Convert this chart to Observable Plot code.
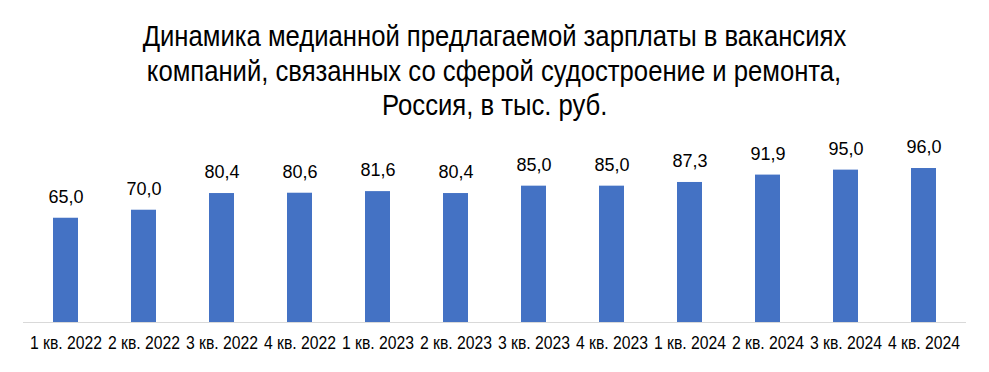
<!DOCTYPE html>
<html>
<head>
<meta charset="utf-8">
<script src="https://cdn.jsdelivr.net/npm/d3@7"></script>
<script src="https://cdn.jsdelivr.net/npm/@observablehq/plot@0.6"></script>
<style>
  html, body { margin: 0; padding: 0; background: #fff; }
  #title {
    width: 989px; height: 125px; box-sizing: border-box; padding-top: 19px;
    text-align: center; font-family: "Liberation Sans", Arial, sans-serif;
    font-size: 30px; line-height: 34.5px; color: #000;
  }
  #title span { display: inline-block; transform: scaleX(0.855); transform-origin: center; white-space: nowrap; }
  #chart svg { display: block; }
</style>
</head>
<body>
<div id="title"><span>Динамика медианной предлагаемой зарплаты в вакансиях</span><br><span>компаний, связанных со сферой судостроение и ремонта,</span><br><span>Россия, в тыс. руб.</span></div>
<div id="chart"></div>
<script>
const quarters = ["1 кв. 2022","2 кв. 2022","3 кв. 2022","4 кв. 2022","1 кв. 2023","2 кв. 2023","3 кв. 2023","4 кв. 2023","1 кв. 2024","2 кв. 2024","3 кв. 2024","4 кв. 2024"];
const salaries = [65.0, 70.0, 80.4, 80.6, 81.6, 80.4, 85.0, 85.0, 87.3, 91.9, 95.0, 96.0];

const data = quarters.map((q, i) => ({q, v: salaries[i]}));
const fmt = v => v.toFixed(1).replace(".", ",");

const chart = Plot.plot({
  width: 989,
  height: 247,
  marginLeft: 23,
  marginRight: 23,
  marginTop: 36.6,
  marginBottom: 50,
  x: {domain: quarters, paddingInner: 0.68, paddingOuter: 0.34, label: null},
  y: {domain: [0, 100], axis: null},
  marks: [
    Plot.barY(data, {x: "q", y: "v", fill: "#4472C4"}),
    Plot.ruleY([0], {stroke: "#d9d9d9", strokeWidth: 1.2}),
    Plot.text(data, {x: "q", y: "v", text: d => fmt(d.v), dy: -21, fontSize: 18, fill: "#000",
      fontFamily: "'Liberation Sans', Arial, sans-serif"}),
    Plot.axisX({tickSize: 0, tickPadding: 14, fontSize: 18, fill: "#000", label: null,
      fontFamily: "'Liberation Sans', Arial, sans-serif"})
  ],
  style: {fontFamily: "'Liberation Sans', Arial, sans-serif", color: "#000", background: "#fff"}
});
d3.select(chart).selectAll('g[aria-label="x-axis tick label"] text').each(function() {
  const t = this.getAttribute("transform") || "";
  this.setAttribute("transform", t + " scale(0.875,1)");
});
document.getElementById("chart").appendChild(chart);
</script>
</body>
</html>
